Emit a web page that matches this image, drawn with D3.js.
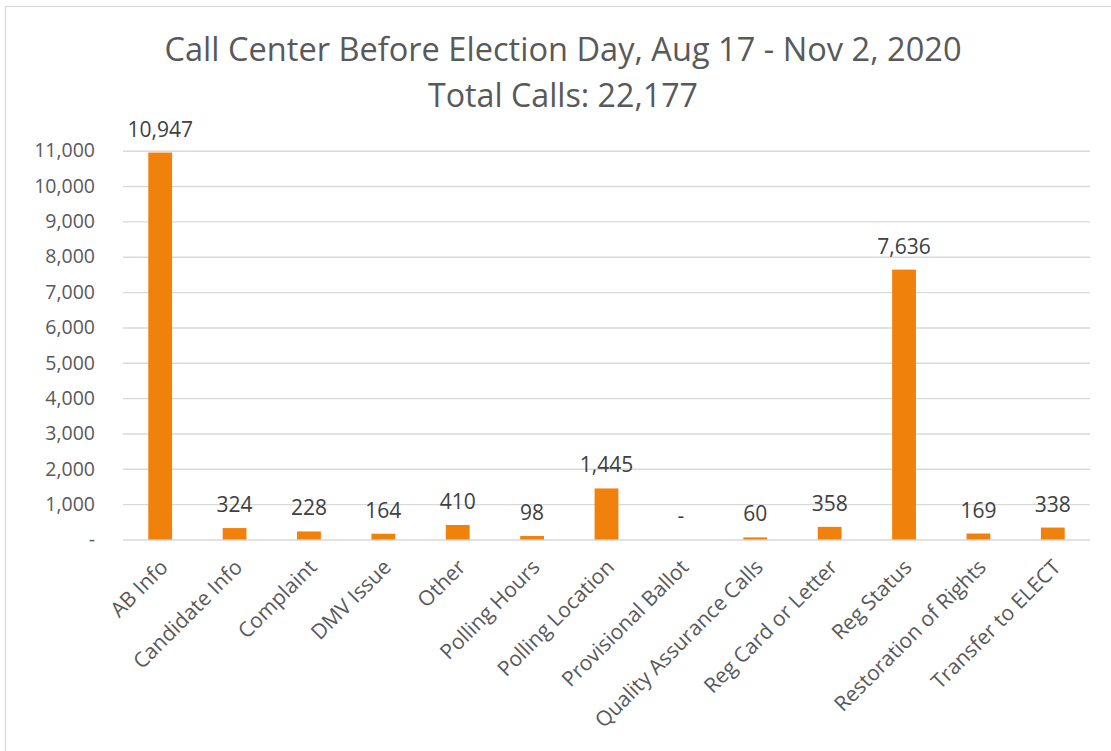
<!DOCTYPE html>
<html>
<head>
<meta charset="utf-8">
<script src="https://cdn.jsdelivr.net/npm/d3@7"></script>
<style>
  body { margin: 0; background: #fff; }
  .axis text { font-family: "Open Sans", sans-serif; font-size: 19.5px; fill: #595959; }
  .axis.x text { font-size: 21px; }
  .grid line { stroke: #d9d9d9; stroke-width: 1.4; }
  .grid path { display: none; }
</style>
</head>
<body>
<div id="chart"></div>
<script>
var width = 1111;
var height = 751;

var margin = {left:123,right:21,top:150.7,bottom:211.5};

var categories = ["AB Info","Candidate Info","Complaint","DMV Issue","Other","Polling Hours",
                  "Polling Location","Provisional Ballot","Quality Assurance Calls","Reg Card or Letter",
                  "Reg Status","Restoration of Rights","Transfer to ELECT"];
var calls = [10947,324,228,164,410,98,1445,0,60,358,7636,169,338];
var yTicks = [0,1000,2000,3000,4000,5000,6000,7000,8000,9000,10000,11000];
var titleLines = ["Call Center Before Election Day, Aug 17 - Nov 2, 2020","Total Calls: 22,177"];

var plotW = width - margin.left - margin.right;
var plotH = height - margin.top - margin.bottom;

var fmt = function(v){ return v === 0 ? "-" : d3.format(",")(v); };

var x = d3.scaleBand()
            .domain(categories)
            .range([0,plotW])
            .paddingInner(0.68)
            .paddingOuter(0.34);

var y = d3.scaleLinear()
            .domain([0,11000])
            .range([plotH,0]);

var svg = d3.select("#chart")
			.append("svg")
			.attr("width",width)
			.attr("height",height);

// chart frame
svg.append("rect")
	.attr("x",5.5).attr("y",6.5)
	.attr("width",1200).attr("height",900)
	.attr("fill","none")
	.attr("stroke","#d9d9d9")
	.attr("stroke-width",1.2);

// title, two lines
var titleW = [797,270];
svg.selectAll(".title")
	.data(titleLines)
	.enter().append("text")
	.attr("class","title")
	.attr("x",563)
	.attr("y",function(d,i){ return 61 + i*46; })
	.attr("text-anchor","middle")
	.attr("textLength",function(d,i){ return titleW[i]; })
	.attr("lengthAdjust","spacingAndGlyphs")
	.style("font-family","'Liberation Sans Narrow', 'Open Sans', sans-serif")
	.style("font-size","32px")
	.style("fill","#595959")
	.text(function(d){ return d; });

var chartGroup = svg.append("g")
			.attr("transform","translate(" + margin.left + "," + margin.top + ")");

// horizontal gridlines
chartGroup.append("g")
	.attr("class","grid")
	.call(d3.axisLeft(y)
		.tickValues(yTicks)
		.tickSize(-plotW)
		.tickFormat(""));

// y axis labels
var yAxis = chartGroup.append("g")
	.attr("class","axis y")
	.call(d3.axisLeft(y)
		.tickValues(yTicks)
		.tickSize(0)
		.tickPadding(28)
		.tickFormat(fmt));
yAxis.select(".domain").remove();

// bars
chartGroup.selectAll(".bar")
	.data(calls)
	.enter().append("rect")
	.attr("class","bar")
	.attr("x",function(d,i){ return x(categories[i]); })
	.attr("width",x.bandwidth())
	.attr("y",function(d){ return y(d); })
	.attr("height",function(d){ return plotH - y(d); })
	.attr("fill","#f0820c");

// data labels
chartGroup.selectAll(".label")
	.data(calls)
	.enter().append("text")
	.attr("class","label")
	.attr("x",function(d,i){ return x(categories[i]) + x.bandwidth()/2; })
	.attr("y",function(d){ return y(d) - 16; })
	.attr("text-anchor","middle")
	.style("font-family","'Open Sans', sans-serif")
	.style("font-size","21px")
	.style("fill","#404040")
	.text(fmt);

// x axis labels, rotated
var xAxis = chartGroup.append("g")
	.attr("class","axis x")
	.attr("transform","translate(0," + plotH + ")")
	.call(d3.axisBottom(x).tickSize(0).tickPadding(0));
xAxis.select(".domain").remove();
xAxis.selectAll("text")
	.attr("text-anchor","end")
	.attr("dy",null)
	.attr("y",null)
	.attr("transform","translate(9,29) rotate(-45)");
</script>
</body>
</html>
